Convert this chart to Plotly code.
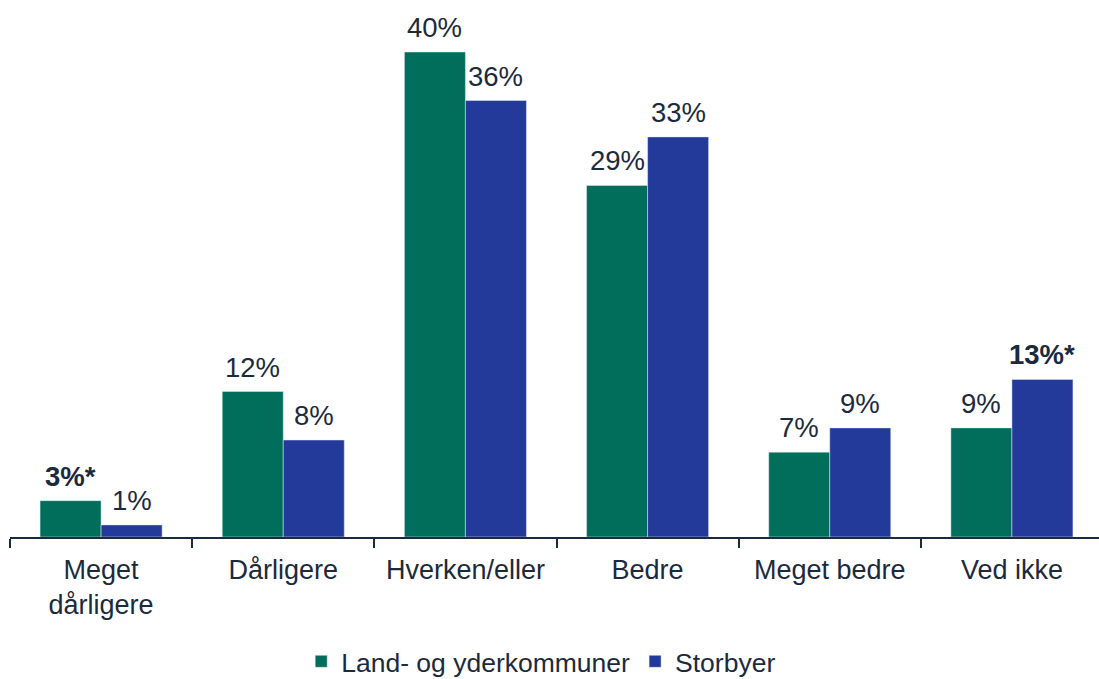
import plotly.graph_objects as go

categories = ["Meget<br>dårligere", "Dårligere", "Hverken/eller", "Bedre", "Meget bedre", "Ved ikke"]
land = [3, 12, 40, 29, 7, 9]
storby = [1, 8, 36, 33, 9, 13]
land_labels = ["<b>3%*</b>", "12%", "40%", "29%", "7%", "9%"]
storby_labels = ["1%", "8%", "36%", "33%", "9%", "<b>13%*</b>"]
series_names = ["Land- og yderkommuner", "Storbyer"]

GREEN = "#006E5A"
BLUE = "#233A9B"
TXT = "#1B2A3C"
FONT = "Liberation Sans, Arial, sans-serif"

fig = go.Figure()
fig.add_bar(x=categories, y=land, name=series_names[0], marker_color=GREEN)
fig.add_bar(x=categories, y=storby, name=series_names[1], marker_color=BLUE)

annotations = []
for cat, v, lab in zip(categories, land, land_labels):
    annotations.append(dict(x=cat, y=v, xref="x", yref="y", text=lab, showarrow=False,
                            xshift=-30.5, yshift=7, yanchor="bottom",
                            font=dict(size=27.5, color=TXT, family=FONT)))
for cat, v, lab in zip(categories, storby, storby_labels):
    annotations.append(dict(x=cat, y=v, xref="x", yref="y", text=lab, showarrow=False,
                            xshift=30.5, yshift=7, yanchor="bottom",
                            font=dict(size=27.5, color=TXT, family=FONT)))

fig.update_layout(
    width=1103, height=679,
    margin=dict(l=10, r=0, t=0, b=142, autoexpand=False),
    paper_bgcolor="white", plot_bgcolor="white",
    barmode="group", bargap=0.33, bargroupgap=0,
    font=dict(family=FONT, size=27, color=TXT),
    showlegend=True,
    legend=dict(orientation="h", x=0.486, xanchor="center", y=-0.232, yanchor="middle",
                font=dict(size=26.5, color=TXT), itemwidth=30, tracegroupgap=0),
    annotations=annotations,
)
fig.update_xaxes(showline=True, linecolor=TXT, linewidth=1.5, ticks="outside",
                 tickson="boundaries", ticklen=9, tickcolor=TXT, tickwidth=1.5,
                 ticklabelstandoff=8, automargin=False,
                 tickfont=dict(size=27, color=TXT, family=FONT), showgrid=False)
fig.update_yaxes(range=[0, 44.29], visible=False, showgrid=False, zeroline=False,
                 automargin=False)

fig.write_html("out.html", config={"displayModeBar": False},
               post_script="document.body.style.margin='0';document.body.style.overflow='hidden';")
